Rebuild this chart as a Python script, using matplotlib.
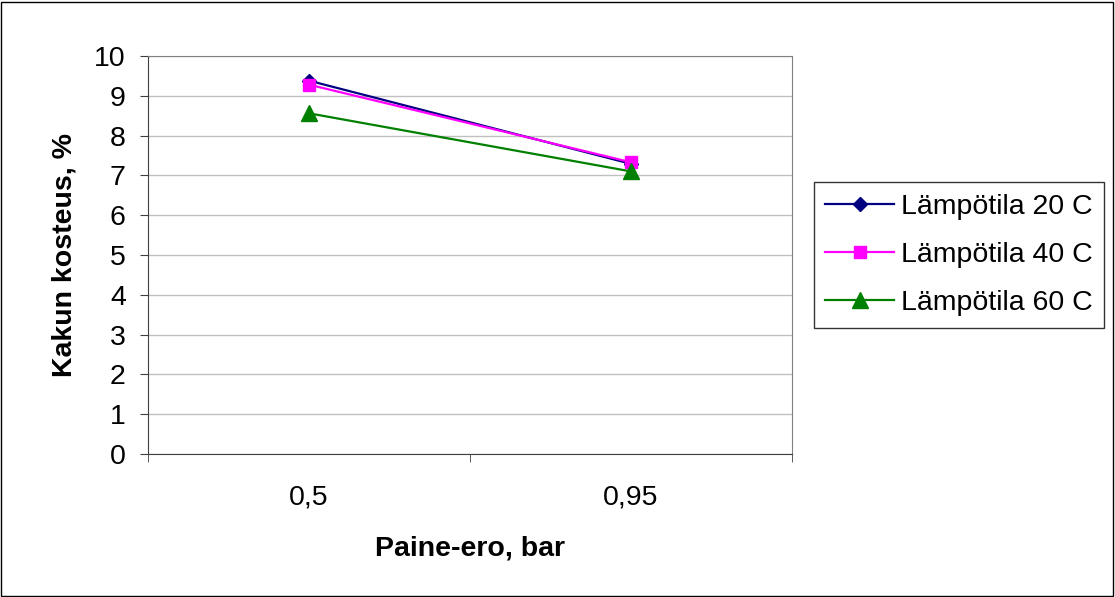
import numpy as np
import matplotlib.pyplot as plt
from matplotlib.patches import Rectangle

# Data
pressure_labels = ["0,5", "0,95"]
temp_20 = [9.38, 7.29]
temp_40 = [9.28, 7.33]
temp_60 = [8.56, 7.10]
series_names = ["Lämpötila 20 C", "Lämpötila 40 C", "Lämpötila 60 C"]

plt.rcParams["font.family"] = ["Liberation Sans", "DejaVu Sans"]

W, H = 1115, 597
fig = plt.figure(figsize=(W / 100, H / 100), dpi=100)
fig.patch.set_facecolor("white")
fig.add_artist(Rectangle((1 / W, 1 / H), 1 - 3 / W, 1 - 3 / H, transform=fig.transFigure,
                         fill=False, edgecolor="black", linewidth=1))

ax = fig.add_axes([148 / W, 1 - 454 / H, (792 - 148) / W, (454 - 56) / H])
x = np.arange(len(pressure_labels))

ax.plot(x, temp_20, color="#000080", marker="D", markersize=7, linewidth=1.6, label=series_names[0])
ax.plot(x, temp_40, color="#FF00FF", marker="s", markersize=9, linewidth=1.6, label=series_names[1])
ax.plot(x, temp_60, color="#008000", marker="^", markersize=11, linewidth=1.6, label=series_names[2])

ax.set_xlim(-0.5, 1.5)
ax.set_ylim(0, 10)
ax.set_yticks(range(0, 11))
ax.set_xticks(x)
ax.set_xticklabels(pressure_labels)
ax.set_xticks([-0.5, 0.5, 1.5], minor=True)
ax.tick_params(axis="x", which="major", length=0, pad=22, labelsize=20.5)
ax.tick_params(axis="x", which="minor", length=6, direction="out", color="#404040")
ax.tick_params(axis="y", length=6, direction="out", labelsize=20.5, pad=10, color="#404040")

ax.grid(axis="y", color="#C0C0C0", linewidth=1)
ax.set_axisbelow(True)
for side in ["top", "right"]:
    ax.spines[side].set_color("#808080")
ax.spines["bottom"].set_color("#404040")
ax.spines["left"].set_color("#404040")

ax.set_xlabel("Paine-ero, bar", fontsize=20.5, fontweight="bold", labelpad=18)
ax.set_ylabel("Kakun kosteus, %", fontsize=20.5, fontweight="bold", labelpad=12)

leg = ax.legend(loc="center left", bbox_to_anchor=(814 / W, 1 - 255 / H), bbox_transform=fig.transFigure,
                fontsize=20.5, frameon=True, fancybox=False, edgecolor="black", borderpad=0.4,
                borderaxespad=0, handlelength=2.4, labelspacing=0.78, handletextpad=0.25)
leg.get_frame().set_linewidth(1)

fig.savefig("out.png", dpi=100)
